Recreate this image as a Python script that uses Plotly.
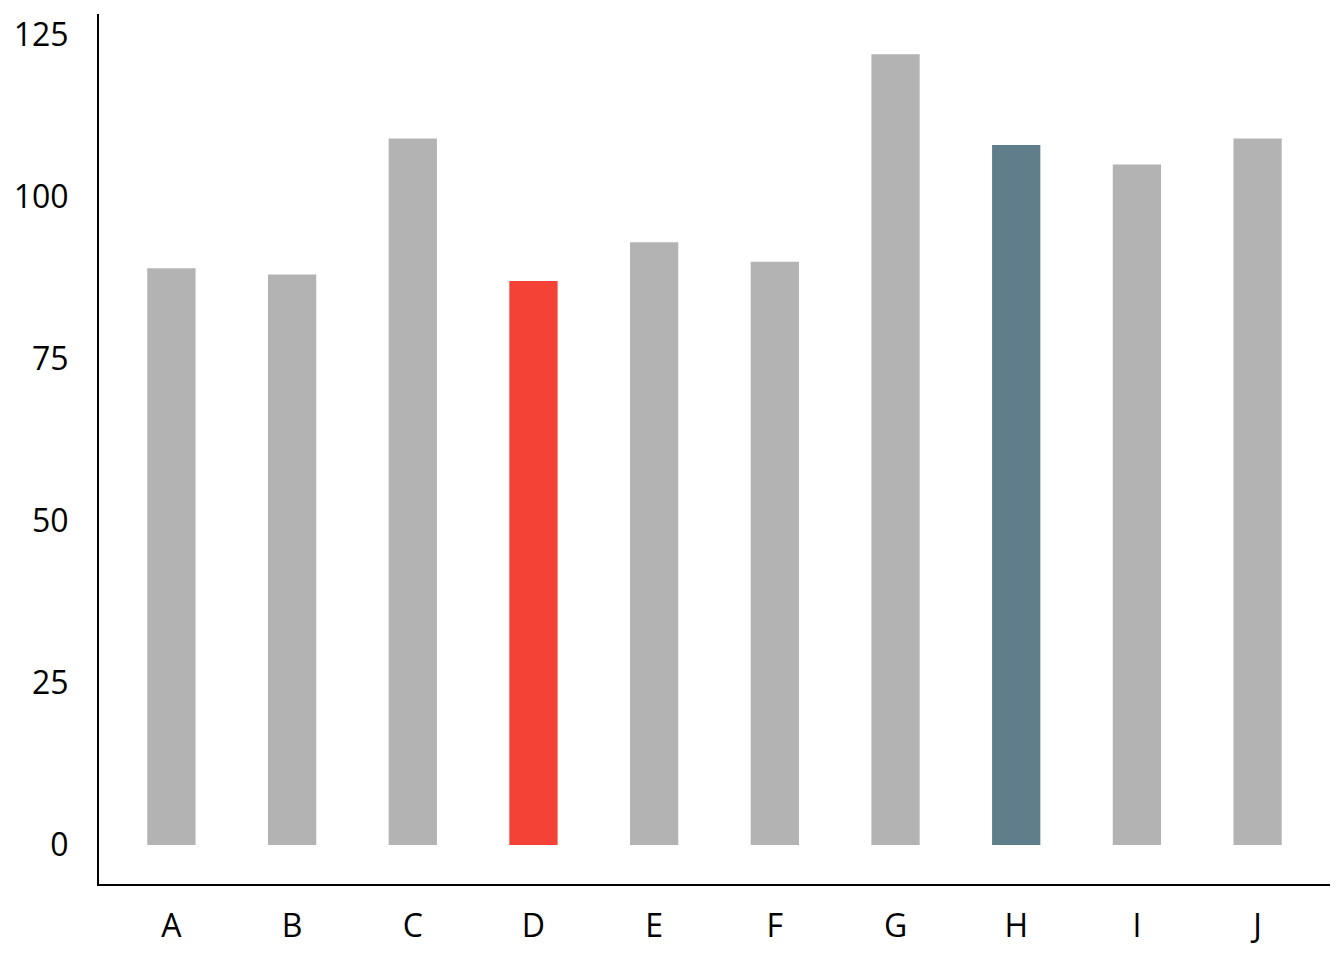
import plotly.graph_objects as go

categories = ["A", "B", "C", "D", "E", "F", "G", "H", "I", "J"]
values = [89, 88, 109, 87, 93, 90, 122, 108, 105, 109]
bar_colors = ["#b3b3b3", "#b3b3b3", "#b3b3b3", "#f44336", "#b3b3b3",
              "#b3b3b3", "#b3b3b3", "#607d8b", "#b3b3b3", "#b3b3b3"]
y_ticks = [0, 25, 50, 75, 100, 125]

fig = go.Figure(go.Bar(x=categories, y=values, marker=dict(color=bar_colors, line=dict(width=0)), width=0.4))

fig.update_layout(
    width=1344, height=960,
    margin=dict(l=99, r=14, t=14, b=76, autoexpand=False),
    paper_bgcolor="white", plot_bgcolor="white",
    font=dict(family="Open Sans", size=32, color="black"),
    showlegend=False,
)
fig.update_xaxes(range=[-0.6, 9.6], showline=True, linecolor="black", linewidth=2,
                 showgrid=False, zeroline=False, ticks="", ticklabelstandoff=13, automargin=False)
fig.update_yaxes(range=[-6, 128.2], tickvals=y_ticks, showline=True, linecolor="black", linewidth=2,
                 showgrid=False, zeroline=False, ticks="", ticklabelstandoff=22, automargin=False)

fig.write_html("out.html", config={"displayModeBar": False},
               post_script="document.body.style.margin='0';document.body.style.overflow='hidden';")
